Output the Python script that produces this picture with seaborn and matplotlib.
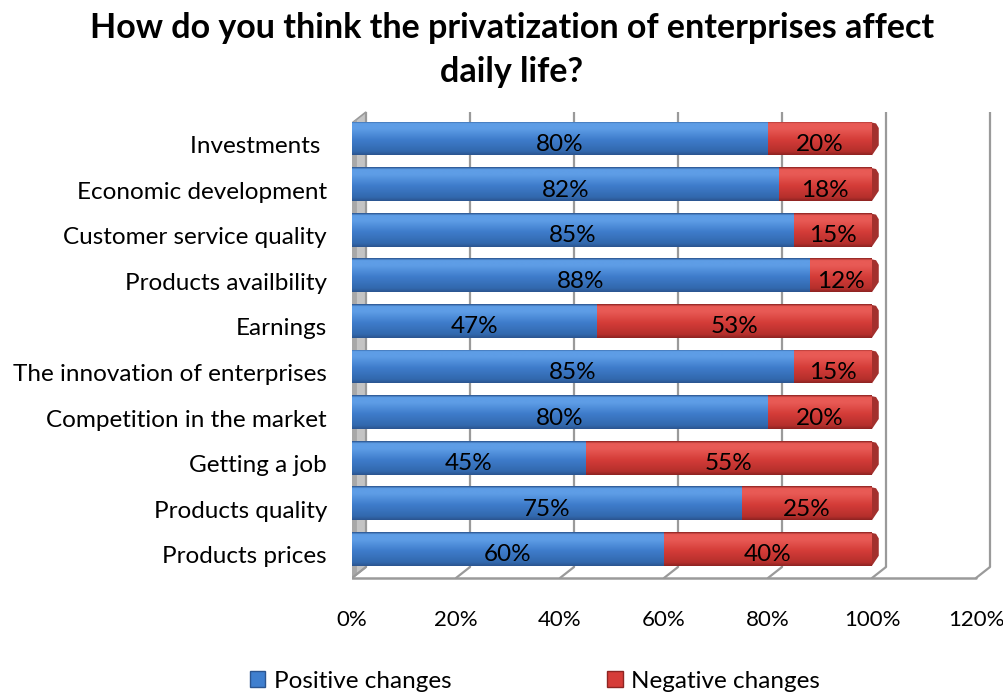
import numpy as np
import pandas as pd
import matplotlib
matplotlib.use("Agg")
import matplotlib.pyplot as plt
import seaborn as sns
from matplotlib.colors import LinearSegmentedColormap
from matplotlib.patches import Polygon, Rectangle

# ---- data -------------------------------------------------------------
categories = [
    "Investments ", "Economic development", "Customer service quality",
    "Products availbility", "Earnings", "The innovation of enterprises",
    "Competition in the market", "Getting a job", "Products quality",
    "Products prices",
]
positive = [80, 82, 85, 88, 47, 85, 80, 45, 75, 60]
negative = [20, 18, 15, 12, 53, 15, 20, 55, 25, 40]
x_ticks = [0, 20, 40, 60, 80, 100, 120]
series_names = ["Positive changes", "Negative changes"]
title_lines = ["How do you think the privatization of enterprises affect",
               "daily life?"]

df = pd.DataFrame({"category": categories,
                   "positive": positive,
                   "negative": negative})
df["total"] = df["positive"] + df["negative"]

# ---- style ------------------------------------------------------------
sns.set_theme(style="white")
plt.rcParams["font.family"] = ["Lato", "DejaVu Sans"]
plt.rcParams["text.color"] = "black"
plt.rcParams["xtick.color"] = "black"
plt.rcParams["ytick.color"] = "black"

BLUE = "#3f7fcf"
RED = "#d63c38"
GRID = "#9a9a9a"
FS = 17.5

W, H = 1004, 693
fig = plt.figure(figsize=(W / 100, H / 100), dpi=100)

# plot area in pixel geometry
ax_l, ax_r, ax_t, ax_b = 352, 1000, 100, 584
ax = fig.add_axes([ax_l / W, 1 - ax_b / H, (ax_r - ax_l) / W, (ax_b - ax_t) / H])

px_per_pct = 5.2
row_px = 45.6
row0 = 138.5
xmax = (ax_r - ax_l) / px_per_pct
ytop = (ax_t - row0) / row_px
ybot = (ax_b - row0) / row_px

# depth offset of the back wall
dx = 14 / px_per_pct
dy = -11 / row_px
front_floor = (578 - row0) / row_px
back_floor = front_floor + dy
back_top = (112 - row0) / row_px
front_top = back_top - dy

# ---- bars: total (negative part shows) then positive over it ----------
bar_w = 0.74
sns.barplot(data=df, y="category", x="total", orient="h", color=RED,
            saturation=1, width=bar_w, ax=ax, zorder=2)
n_red = len(ax.patches)
sns.barplot(data=df, y="category", x="positive", orient="h", color=BLUE,
            saturation=1, width=bar_w, ax=ax, zorder=3)

def shade_cmap(dark, light, mid, deep):
    return LinearSegmentedColormap.from_list(
        "shade", [(0.0, dark), (0.06, light), (0.22, light), (0.55, mid),
                  (0.9, deep), (1.0, dark)])

blue_cmap = shade_cmap("#2b5590", "#5e9de6", "#3e7ccb", "#3268ad")
red_cmap = shade_cmap("#8e2422", "#e85a55", "#d43c38", "#b52f2c")
grad = np.linspace(0, 1, 64).reshape(-1, 1)

for k, patch in enumerate(ax.patches):
    is_red = k < n_red
    x0, y0 = patch.get_x(), patch.get_y()
    w, h = patch.get_width(), patch.get_height()
    patch.set_edgecolor("none")
    z = 2.1 if is_red else 3.1
    im = ax.imshow(grad, cmap=red_cmap if is_red else blue_cmap,
                   extent=(x0, x0 + w, y0 + h, y0), aspect="auto",
                   interpolation="bilinear", zorder=z)
    im.set_clip_path(patch)

# bevelled right-hand end of each stacked bar
cap = 1.3
for i, tot in enumerate(df["total"]):
    yt, yb = i - bar_w / 2, i + bar_w / 2
    ax.add_patch(Polygon([(tot, yt + 0.02), (tot + cap * 0.6, yt + 0.04),
                          (tot + cap, yt + 0.14), (tot + cap, yb - 0.22),
                          (tot, yb)],
                         closed=True, facecolor="#a3302d", edgecolor="none",
                         zorder=2.2))

# ---- value labels -----------------------------------------------------
for i, (p, n) in enumerate(zip(df["positive"], df["negative"])):
    ax.text(p / 2, i + 0.13, f"{p}%", ha="center", va="center",
            fontsize=FS, color="black", zorder=5)
    ax.text(p + n / 2, i + 0.13, f"{n}%", ha="center", va="center",
            fontsize=FS, color="black", zorder=5)

# ---- 3-D frame: back wall grid, floor, left wall ---------------------
for t in x_ticks:
    ax.plot([t + dx, t + dx], [back_top, back_floor], color=GRID, lw=1.6,
            zorder=1, solid_capstyle="butt")
    ax.plot([t, t + dx], [front_floor, back_floor], color=GRID, lw=1.6,
            zorder=1)
ax.plot([0, x_ticks[-1]], [front_floor, front_floor], color=GRID, lw=1.8,
        zorder=1)
wall = Polygon([(0, front_floor), (0, front_top), (dx, back_top),
                (dx, back_floor)], closed=True, facecolor="#c4c4c4",
               edgecolor=GRID, lw=1.2, zorder=0.8)
ax.add_patch(wall)
ax.add_patch(Polygon([(0, front_floor), (0, front_top), (dx * 0.35, front_top - 0.08),
                      (dx * 0.35, front_floor - 0.08)], closed=True,
                     facecolor="#a8a8a8", edgecolor="none", zorder=0.9))

# ---- axes -------------------------------------------------------------
ax.set_xlim(0, xmax)
ax.set_ylim(ybot, ytop)
ax.set_xticks(x_ticks)
ax.set_xticklabels([f"{t}%" for t in x_ticks], fontsize=16)
ax.set_yticks(np.arange(len(categories)) + 0.13)
ax.set_yticklabels(categories, fontsize=FS)
ax.tick_params(axis="x", length=0, pad=19)
ax.tick_params(axis="y", length=0, pad=18)
ax.set_xlabel("")
ax.set_ylabel("")
for s in ax.spines.values():
    s.set_visible(False)
ax.patch.set_alpha(0)

# ---- title ------------------------------------------------------------
fig.text(512 / W, 1 - 28 / H, title_lines[0], ha="center", va="center",
         fontsize=24.5, fontweight="bold")
fig.text(512 / W, 1 - 72 / H, title_lines[1], ha="center", va="center",
         fontsize=24.5, fontweight="bold")

# ---- legend -----------------------------------------------------------
handles = [Rectangle((0, 0), 1, 1, facecolor=BLUE, edgecolor="#2b5590"),
           Rectangle((0, 0), 1, 1, facecolor=RED, edgecolor="#8e2422")]
fig.legend(handles, series_names, loc="center",
           bbox_to_anchor=(535 / W, 1 - 681 / H), ncol=2, frameon=False,
           fontsize=FS, columnspacing=6.4, handlelength=0.65,
           handleheight=0.65, handletextpad=0.35)

fig.savefig("out.png", dpi=100)
